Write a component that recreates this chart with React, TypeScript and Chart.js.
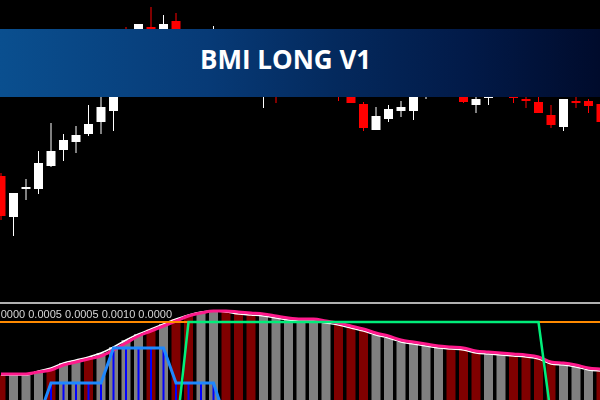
import React, { useEffect, useRef } from "react";
import { Chart, registerables } from "chart.js";

Chart.register(...registerables);

// ---- Price candles (one per bar, index 0..48) ----
const opens = [1.0824, 1.0783, 1.0811, 1.0811, 1.0834, 1.085, 1.0858, 1.0866, 1.0878, 1.0889, 1.0955, 1.094, 1.0973, 1.0955, 1.0979, 1.0955, 1.0936, 1.0948, 1.096, 1.0942, 1.0928, 1.0912, 1.0934, 1.0916, 1.0932, 1.0946, 1.093, 1.092, 1.0915, 1.0896, 1.087, 1.0881, 1.0889, 1.0889, 1.091, 1.0918, 1.0934, 1.0918, 1.0895, 1.0902, 1.0912, 1.0922, 1.0901, 1.0898, 1.0885, 1.0873, 1.0899, 1.0899, 1.0896];
const highs = [1.0827, 1.0807, 1.0821, 1.0849, 1.0877, 1.0866, 1.0874, 1.0895, 1.091, 1.0925, 1.0973, 1.0976, 1.0993, 1.0985, 1.0987, 1.0965, 1.0962, 1.0974, 1.0968, 1.095, 1.0934, 1.0938, 1.0942, 1.0945, 1.0956, 1.0954, 1.0938, 1.093, 1.0922, 1.0898, 1.0893, 1.0895, 1.0899, 1.092, 1.0926, 1.094, 1.094, 1.0924, 1.0908, 1.0922, 1.0934, 1.093, 1.0908, 1.0906, 1.0895, 1.0901, 1.0903, 1.0901, 1.09];
const lows = [1.078, 1.0764, 1.08, 1.0806, 1.0833, 1.0839, 1.0847, 1.0864, 1.0866, 1.0869, 1.0928, 1.0934, 1.0942, 1.0948, 1.0945, 1.0932, 1.093, 1.094, 1.0936, 1.092, 1.091, 1.0892, 1.0897, 1.0908, 1.0926, 1.0922, 1.0912, 1.0899, 1.0897, 1.0869, 1.087, 1.0878, 1.0883, 1.088, 1.0901, 1.0912, 1.0914, 1.0897, 1.0887, 1.0895, 1.0906, 1.0897, 1.0892, 1.0887, 1.0872, 1.0869, 1.0892, 1.0887, 1.0876];
const closes = [1.0784, 1.0807, 1.0813, 1.0837, 1.0849, 1.086, 1.0865, 1.0876, 1.0893, 1.0915, 1.0935, 1.0976, 1.095, 1.0976, 1.0952, 1.0938, 1.0956, 1.0962, 1.0942, 1.0928, 1.0916, 1.093, 1.0915, 1.0934, 1.0948, 1.093, 1.0918, 1.0908, 1.0897, 1.0872, 1.0884, 1.0891, 1.0893, 1.0912, 1.092, 1.0934, 1.092, 1.0898, 1.0901, 1.0916, 1.0926, 1.0902, 1.0899, 1.0887, 1.0875, 1.0901, 1.0897, 1.0894, 1.0878];

// ---- Indicator panel ----
const histogram = [25, 25, 25, 29, 32, 37, 40, 43, 47, 53, 60, 66, 71, 76, 81, 85, 88, 89, 88, 86, 85, 84, 82, 80, 79, 79, 77, 75, 72, 69, 65, 62, 58, 56, 54, 52, 51, 50, 47, 46, 45, 44, 43, 41, 36, 35, 33, 30, 29];
const histFalling = [1, 0, 0, 0, 1, 0, 0, 1, 0, 0, 0, 0, 1, 0, 1, 1, 0, 0, 1, 1, 1, 0, 0, 0, 0, 0, 0, 1, 1, 1, 0, 0, 0, 0, 0, 0, 1, 1, 1, 0, 0, 1, 1, 1, 1, 0, 0, 0, 1];
const signalLine = [26, 26, 26, 28, 30, 35, 38, 41, 44, 50, 57, 64, 69, 74, 79, 84, 87, 89, 89, 88, 87, 86, 84, 82, 81, 81, 79, 77, 74, 71, 67, 64, 60, 58, 56, 54, 53, 52, 49, 48, 47, 46, 45, 43, 38, 37, 35, 32, 31];
const trendLine = [-36, -36, -36, -36, -36, -36, -36, -36, -36, -36, -36, -36, -36, -36, -36, 78, 78, 78, 78, 78, 78, 78, 78, 78, 78, 78, 78, 78, 78, 78, 78, 78, 78, 78, 78, 78, 78, 78, 78, 78, 78, 78, 78, 78, -16, -16, -16, -16, -16];
const stepLine = [-19, -19, -19, -18, 17, 17, 17, 17, 17, 52, 52, 52, 52, 52, 17, 17, 17, 17, -21, -21, -21, -21, -21, -21, -21, -21, -21, -21, -21, -21, -21, -21, -21, -21, -21, -21, -21, -21, -21, -21, -21, -21, -21, -21, -21, -21, -21, -21, -21];
const thresholdLevel = 78;
const readout = ["0.0000", "0.0005", "0.0005", "0.0010", "0.0000"];
const title = "BMI LONG V1";

const panelPlugin = {
  id: "panels",
  beforeDatasetsDraw(chart: any) {
    const { ctx, scales } = chart;
    const y2 = scales.y2;
    ctx.save();
    ctx.fillStyle = "#b0b0b0";
    ctx.fillRect(0, y2.getPixelForValue(98), chart.width, 2);
    ctx.fillStyle = "#d6d6d6";
    ctx.font = '11px "Liberation Sans", Arial, sans-serif';
    ctx.textAlign = "right";
    ctx.textBaseline = "alphabetic";
    ctx.fillText(readout.join(" "), 172, 317.5);
    ctx.restore();
  },
};

export default function App() {
  const ref = useRef<HTMLCanvasElement>(null);

  useEffect(() => {
    const idx = opens.map((_, i) => i);
    const bull = (i: number) => closes[i] >= opens[i];
    const chart = new Chart(ref.current as HTMLCanvasElement, {
      type: "bar",
      data: {
        datasets: [
          {
            type: "bar",
            label: "bodies",
            yAxisID: "y",
            order: 1,
            grouped: false,
            data: idx.map((i) => ({ x: i, y: [opens[i], closes[i]] })) as any,
            backgroundColor: idx.map((i) => (bull(i) ? "#ffffff" : "#ff0000")),
            barThickness: 9,
            inflateAmount: 0,
          } as any,
          {
            type: "bar",
            label: "wicks",
            yAxisID: "y",
            order: 2,
            grouped: false,
            data: idx.map((i) => ({ x: i, y: [lows[i], highs[i]] })) as any,
            backgroundColor: idx.map((i) => (bull(i) ? "#ffffff" : "#ff0000")),
            barThickness: 1,
            inflateAmount: 0,
          } as any,
          {
            type: "line",
            label: "step",
            yAxisID: "y2",
            order: 4,
            data: idx.map((i) => ({ x: i, y: stepLine[i] })),
            borderColor: "#1e88ff",
            borderWidth: 3,
            pointRadius: 0,
            tension: 0,
          } as any,
          {
            type: "line",
            label: "trend",
            yAxisID: "y2",
            order: 3,
            data: idx.map((i) => ({ x: i, y: trendLine[i] })),
            borderColor: "#00ee7a",
            borderWidth: 2.5,
            pointRadius: 0,
            tension: 0,
          } as any,
          {
            type: "line",
            label: "level",
            yAxisID: "y2",
            order: 6,
            data: [
              { x: -1, y: thresholdLevel },
              { x: 49, y: thresholdLevel },
            ],
            borderColor: "#ff8a00",
            borderWidth: 2,
            pointRadius: 0,
          } as any,
          {
            type: "line",
            label: "signal",
            yAxisID: "y2",
            order: 7,
            data: idx.map((i) => ({ x: i, y: signalLine[i] })),
            borderColor: "#ff1a8c",
            borderWidth: 3,
            pointRadius: 0,
            tension: 0.4,
            cubicInterpolationMode: "monotone",
          } as any,
          {
            type: "line",
            label: "value",
            yAxisID: "y2",
            order: 8,
            data: idx.map((i) => ({ x: i, y: histogram[i] })),
            borderColor: "#ffffff",
            borderWidth: 1.5,
            pointRadius: 0,
            tension: 0.4,
            cubicInterpolationMode: "monotone",
          } as any,
          {
            type: "bar",
            label: "pulses",
            yAxisID: "y2",
            order: 9,
            grouped: false,
            data: idx.map((i) => ({ x: i, y: stepLine[i] > 0 ? stepLine[i] : null })) as any,
            backgroundColor: "#0000ff",
            barThickness: 2,
            inflateAmount: 0,
          } as any,
          {
            type: "bar",
            label: "histogram",
            yAxisID: "y2",
            order: 10,
            grouped: false,
            data: idx.map((i) => ({ x: i, y: histogram[i] })) as any,
            backgroundColor: idx.map((i) => (histFalling[i] ? "#800000" : "#808080")),
            barThickness: 9,
            inflateAmount: 0,
          } as any,
        ],
      },
      options: {
        responsive: false,
        animation: false,
        events: [],
        layout: { padding: 0 },
        plugins: { legend: { display: false }, tooltip: { enabled: false } },
        scales: {
          x: { type: "linear", min: -0.08, max: 47.92, display: false, offset: false },
          y: { min: 1.06, max: 1.1, display: false },
          y2: { min: 0, max: 400, display: false },
        },
      },
      plugins: [panelPlugin],
    });
    return () => chart.destroy();
  }, []);

  return (
    <div
      style={{
        position: "fixed",
        left: 0,
        top: 0,
        width: 600,
        height: 400,
        background: "#000",
        overflow: "hidden",
      }}
    >
      <canvas ref={ref} width={600} height={400} style={{ display: "block" }} />
      <div
        style={{
          position: "absolute",
          left: 0,
          top: 29,
          width: 600,
          height: 68,
          background:
            "linear-gradient(90deg, #0a4f8f 0%, #073a76 35%, #042a5e 55%, #021a48 78%, #000b2c 100%)",
        }}
      >
        <span
          style={{
            position: "absolute",
            left: 200,
            top: 17,
            fontFamily: '"Open Sans", sans-serif',
            fontWeight: 700,
            fontSize: 26,
            lineHeight: "26px",
            color: "#ffffff",
            whiteSpace: "nowrap",
          }}
        >
          {title}
        </span>
      </div>
    </div>
  );
}
